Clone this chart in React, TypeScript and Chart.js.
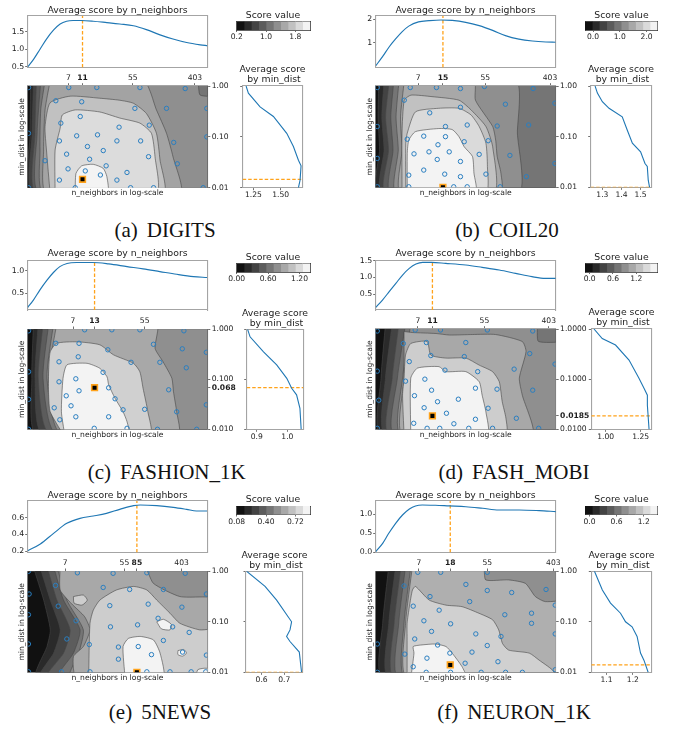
import React, { useEffect, useRef } from "react";
import { Chart, registerables } from "chart.js";

Chart.register(...registerables);

const FONT = "DejaVu Sans";
const TXT = "#1c1c1c";
const SPINE = "#a4a4a4";
const TICK = "#4a4a4a";
const BLUE = "#1f77b4";
const ORANGE = "#ffa21a";
const CONTOUR = "rgba(70,70,70,0.75)";
const CB_FRAME = "#3a3a3a";

Chart.defaults.font.family = FONT;
Chart.defaults.color = TXT;

// ======================= DATA =======================
const NN_MIN = 1.9;
const HEAT_RIGHT_3 = [1, 0.1, 0.01];
const HEAT_RIGHT_3_LABELS = ["1.00", "0.10", "0.01"];

// ---------- (a) DIGITS ----------
const A_NN_MAX = 599;
const A_BEST = [11, 0.0146];
const A_TOP_LOGNN = [0.28, 0.36, 0.45, 0.54, 0.64, 0.73, 0.82, 0.91, 1.02, 1.19, 1.38, 1.56, 1.75, 1.93, 2.12, 2.3, 2.49, 2.68, 2.78];
const A_TOP_SCORE = [0.5, 0.71, 1.0, 1.29, 1.55, 1.72, 1.8, 1.82, 1.82, 1.8, 1.76, 1.72, 1.67, 1.56, 1.41, 1.29, 1.19, 1.125, 1.1];
const A_TOP_YRANGE = [0.477, 1.949];
const A_TOP_YTICKS = [0.5, 1.0, 1.5];
const A_TOP_YLABELS = ["0.5", "1.0", "1.5"];
const A_HEAT_TOP = [7, 11, 55, 403];
const A_SIDE_SCORE = [1.183, 1.204, 1.311, 1.433, 1.555, 1.616, 1.662, 1.686, 1.677, 1.662];
const A_SIDE_LOGMD = [0, -0.14, -0.41, -0.6, -0.93, -1.19, -1.46, -1.57, -1.85, -2.0];
const A_SIDE_RANGE = [1.152, 1.701];
const A_SIDE_TICKS = [1.25, 1.5];
const A_SIDE_LABELS = ["1.25", "1.50"];
const A_PTS_LOGNN = [0.29, 0.85, 1.24, 1.84, 2.47, 0.67, 1.03, 1.77, 2.21, 2.77, 1.01, 0.74, 1.55, 1.97, 0.29, 0.96, 1.25, 0.72, 1.11, 1.52, 1.85, 2.31, 2.77, 0.82, 1.33, 1.96, 0.52, 1.14, 2.36, 1.37, 0.84, 1.08, 1.29, 1.66, 0.72, 1.52, 0.29, 0.94, 1.71, 2.03, 2.72];
const A_PTS_LOGMD = [-0.03, -0.03, -0.03, -0.03, -0.05, -0.29, -0.31, -0.44, -0.44, -0.44, -0.6, -0.73, -0.81, -0.77, -0.93, -0.98, -0.96, -1.08, -1.19, -1.08, -1.08, -1.11, -1.0, -1.34, -1.27, -1.39, -1.47, -1.44, -1.53, -1.57, -1.63, -1.67, -1.75, -1.7, -1.85, -1.85, -2.0, -2.0, -2.0, -2.0, -2.0];
const A_LEVELS = [0, 1, 2, 3, 4, 5, 5.8, 7, 8.1, 9];
const A_SHAPES = [
  [[0.1, 0.1], [3.2, 0.1], [3.2, -2.1], [0.1, -2.1]],
  [[0.32, 0.1], [3.2, 0.1], [3.2, -2.1], [0.32, -2.1], [0.31, -1.0]],
  [[0.36, 0.1], [3.2, 0.1], [3.2, -2.1], [0.36, -2.1], [0.34, -0.93]],
  [[0.4, 0.1], [3.2, 0.1], [3.2, -2.1], [0.4, -2.1], [0.38, -0.93]],
  [[0.46, 0.1], [3.2, 0.1], [3.2, -2.1], [0.44, -2.1], [0.41, -0.93]],
  [[0.52, 0.1], [2.63, 0.1], [2.68, -0.18], [3.2, -0.28], [3.2, -2.1], [0.5, -2.1], [0.45, -1.26], [0.46, -0.47]],
  [[0.59, 0.1], [1.89, 0.1], [2.07, -0.47], [2.21, -0.93], [2.3, -1.39], [2.4, -2.1], [0.54, -2.1], [0.5, -1.26], [0.52, -0.47]],
  [[0.59, -2.1], [0.54, -1.26], [0.52, -0.8], [0.59, -0.33], [0.87, -0.2], [1.28, -0.24], [1.56, -0.28], [1.75, -0.34], [1.93, -0.54], [2.07, -0.93], [2.12, -1.46], [2.17, -2.1]],
  [[0.66, -2.1], [0.66, -1.26], [0.73, -0.83], [0.76, -0.57], [0.94, -0.47], [1.28, -0.51], [1.56, -0.63], [1.84, -0.73], [2.0, -0.93], [2.05, -1.39], [2.07, -2.1]],
  [[0.94, -2.1], [0.95, -1.72], [1.03, -1.57], [1.19, -1.54], [1.33, -1.62], [1.38, -1.78], [1.39, -2.1]],
];
const A_CB_EDGES = [0.2, 0.4, 0.6, 0.8, 1.0, 1.2, 1.4, 1.6, 1.8, 2.0, 2.2];
const A_CB_TICKS = [0.2, 1.0, 1.8];
const A_CB_LABELS = ["0.2", "1.0", "1.8"];

// ---------- (b) COIL20 ----------
const B_NN_MAX = 480;
const B_BEST = [15, 0.01];
const B_TOP_LOGNN = [0.28, 0.37, 0.46, 0.55, 0.63, 0.72, 0.85, 0.99, 1.15, 1.3, 1.48, 1.66, 1.84, 2.01, 2.19, 2.37, 2.55, 2.68];
const B_TOP_SCORE = [0.03, 0.41, 0.83, 1.18, 1.46, 1.7, 1.88, 1.93, 1.96, 1.94, 1.86, 1.72, 1.52, 1.3, 1.15, 1.07, 1.03, 1.02];
const B_TOP_YRANGE = [-0.046, 2.127];
const B_TOP_YTICKS = [1, 2];
const B_TOP_YLABELS = ["1", "2"];
const B_HEAT_TOP = [7, 15, 55, 403];
const B_SIDE_SCORE = [1.262, 1.274, 1.3, 1.335, 1.404, 1.43, 1.457, 1.5, 1.523, 1.535, 1.54, 1.547];
const B_SIDE_LOGMD = [0, -0.14, -0.31, -0.44, -0.61, -0.87, -1.13, -1.3, -1.53, -1.59, -1.86, -2.0];
const B_SIDE_RANGE = [1.239, 1.556];
const B_SIDE_TICKS = [1.3, 1.4, 1.5];
const B_SIDE_LABELS = ["1.3", "1.4", "1.5"];
const B_PTS_LOGNN = [0.3, 0.74, 1.09, 1.41, 1.73, 2.38, 0.66, 2.01, 2.67, 1.0, 1.41, 1.21, 1.5, 1.9, 2.32, 0.3, 0.92, 1.21, 0.7, 1.11, 1.46, 1.78, 0.99, 1.26, 0.79, 1.66, 2.07, 1.1, 1.41, 0.3, 2.67, 0.92, 1.2, 1.75, 2.29, 0.72, 1.41, 0.72, 1.32, 1.5, 1.94, 0.3];
const B_PTS_LOGMD = [-0.03, -0.03, -0.03, -0.05, -0.01, -0.05, -0.28, -0.36, -0.34, -0.53, -0.42, -0.8, -0.77, -0.79, -0.77, -0.8, -0.99, -1.0, -1.05, -1.16, -1.1, -1.08, -1.3, -1.3, -1.34, -1.35, -1.37, -1.45, -1.49, -1.43, -1.53, -1.66, -1.74, -1.74, -1.79, -1.76, -1.79, -1.99, -1.99, -1.99, -1.99, -1.99];
const B_LEVELS = [0, 1, 2, 3, 4, 5, 6, 7, 8, 9];
const B_SHAPES = [
  [[0.1, 0.1], [3.2, 0.1], [3.2, -2.1], [0.1, -2.1]],
  [[0.32, 0.1], [3.2, 0.1], [3.2, -2.1], [0.31, -2.1], [0.33, -1.26], [0.31, -0.61]],
  [[0.39, 0.1], [3.2, 0.1], [3.2, -2.1], [0.36, -2.1], [0.39, -1.26], [0.36, -0.61]],
  [[0.46, 0.1], [3.2, 0.1], [3.2, -2.1], [0.41, -2.1], [0.45, -1.26], [0.41, -0.61]],
  [[0.52, 0.1], [3.2, 0.1], [3.2, -2.1], [0.48, -2.1], [0.51, -1.26], [0.48, -0.61]],
  [[0.59, 0.1], [2.15, 0.1], [2.17, -0.93], [2.19, -2.1], [0.55, -2.1], [0.58, -1.26], [0.55, -0.61]],
  [[0.66, 0.1], [1.59, 0.1], [1.61, -0.28], [1.84, -0.8], [1.88, -1.07], [1.9, -1.39], [1.95, -1.72], [1.95, -2.1], [0.61, -2.1], [0.63, -1.26], [0.61, -0.61]],
  [[0.63, -2.1], [0.63, -0.93], [0.66, -0.28], [0.75, -0.18], [1.03, -0.21], [1.39, -0.28], [1.55, -0.47], [1.75, -0.8], [1.84, -1.2], [1.86, -2.1]],
  [[0.68, -2.1], [0.68, -1.13], [0.7, -0.93], [0.81, -0.51], [1.12, -0.44], [1.39, -0.44], [1.55, -0.57], [1.66, -0.8], [1.75, -1.13], [1.77, -1.59], [1.75, -2.1]],
  [[0.7, -2.1], [0.7, -1.33], [0.72, -1.07], [0.81, -0.9], [1.12, -0.84], [1.3, -0.86], [1.39, -1.0], [1.46, -1.2], [1.57, -1.39], [1.59, -1.72], [1.61, -2.1]],
];
const B_CB_EDGES = [-0.3, -0.03, 0.24, 0.51, 0.78, 1.05, 1.32, 1.59, 1.86, 2.13, 2.4];
const B_CB_TICKS = [0, 1, 2];
const B_CB_LABELS = ["0.0", "1.0", "2.0"];

// ---------- (c) FASHION_1K ----------
const C_NN_MAX = 333;
const C_BEST = [13, 0.068];
const C_TOP_LOGNN = [0.28, 0.35, 0.43, 0.52, 0.6, 0.68, 0.77, 0.89, 1.09, 1.29, 1.52, 1.72, 1.93, 2.14, 2.35, 2.52];
const C_TOP_SCORE = [0.19, 0.35, 0.57, 0.79, 0.96, 1.09, 1.16, 1.18, 1.18, 1.15, 1.09, 1.04, 0.98, 0.92, 0.87, 0.85];
const C_TOP_YRANGE = [0.131, 1.225];
const C_TOP_YTICKS = [0.5, 1.0];
const C_TOP_YLABELS = ["0.5", "1.0"];
const C_HEAT_TOP = [7, 13, 55];
const C_HEAT_RIGHT = [1, 0.1, 0.068, 0.01];
const C_HEAT_RIGHT_LABELS = ["1.000", "0.100", "0.068", "0.010"];
const C_SIDE_SCORE = [0.87, 0.878, 0.922, 0.965, 0.998, 1.014, 1.03, 1.041, 1.045];
const C_SIDE_LOGMD = [0, -0.15, -0.45, -0.71, -0.98, -1.18, -1.31, -1.58, -2.0];
const C_SIDE_RANGE = [0.867, 1.052];
const C_SIDE_TICKS = [0.9, 1.0];
const C_SIDE_LABELS = ["0.9", "1.0"];
const C_PTS_LOGNN = [0.99, 1.33, 1.68, 2.23, 0.29, 0.63, 0.92, 1.85, 1.28, 2.21, 2.51, 0.91, 0.67, 1.57, 1.93, 2.26, 0.29, 1.22, 0.88, 0.67, 0.92, 1.29, 2.04, 0.76, 1.37, 0.29, 0.82, 0.61, 1.47, 1.74, 2.14, 2.51, 0.88, 1.29, 0.68, 0.29, 1.11, 1.52, 1.9, 2.39];
const C_PTS_LOGMD = [-0.01, -0.01, -0.01, -0.03, -0.03, -0.28, -0.28, -0.3, -0.41, -0.39, -0.46, -0.55, -0.65, -0.66, -0.66, -0.77, -0.85, -0.86, -0.99, -1.05, -1.23, -1.17, -1.21, -1.33, -1.39, -1.4, -1.53, -1.57, -1.61, -1.6, -1.65, -1.51, -1.75, -1.75, -1.81, -2.0, -1.98, -1.98, -2.0, -2.0];
const C_LEVELS = [0, 1, 2, 3, 4, 5, 6, 7.6, 9];
const C_SHAPES = [
  [[0.1, 0.1], [3.2, 0.1], [3.2, -2.1], [0.1, -2.1]],
  [[0.35, 0.1], [3.2, 0.1], [3.2, -2.1], [0.39, -2.1], [0.33, -0.98]],
  [[0.41, 0.1], [3.2, 0.1], [3.2, -2.1], [0.47, -2.1], [0.37, -0.98]],
  [[0.47, 0.1], [3.2, 0.1], [3.2, -2.1], [0.56, -2.1], [0.41, -0.98]],
  [[0.54, 0.1], [3.2, 0.1], [3.2, -2.1], [0.64, -2.1], [0.47, -0.98]],
  [[0.6, 0.1], [3.2, 0.1], [3.2, -2.1], [0.7, -2.1], [0.52, -0.98]],
  [[0.64, 0.1], [1.89, 0.1], [1.87, -0.38], [1.97, -0.65], [2.08, -0.98], [2.1, -1.25], [2.14, -1.65], [2.16, -2.1], [0.74, -2.1], [0.54, -0.98]],
  [[0.72, -2.1], [0.56, -1.65], [0.54, -1.31], [0.54, -0.85], [0.56, -0.45], [0.64, -0.28], [0.89, -0.25], [1.18, -0.31], [1.35, -0.51], [1.6, -0.68], [1.68, -0.85], [1.72, -1.18], [1.78, -1.65], [1.81, -2.1]],
  [[0.74, -2.1], [0.7, -1.65], [0.72, -0.98], [0.77, -0.71], [1.02, -0.68], [1.18, -0.78], [1.27, -0.95], [1.29, -1.11], [1.37, -1.38], [1.47, -1.65], [1.52, -1.85], [1.54, -2.1]],
];
const C_CB_EDGES = [0, 0.14, 0.28, 0.42, 0.56, 0.7, 0.84, 0.98, 1.12, 1.26, 1.4];
const C_CB_TICKS = [0, 0.6, 1.2];
const C_CB_LABELS = ["0.00", "0.60", "1.20"];

// ---------- (d) FASH_MOBI ----------
const D_NN_MAX = 500;
const D_BEST = [11, 0.0185];
const D_TOP_LOGNN = [0.28, 0.37, 0.46, 0.55, 0.64, 0.73, 0.82, 0.91, 1.03, 1.22, 1.49, 1.71, 1.94, 2.16, 2.38, 2.56, 2.7];
const D_TOP_SCORE = [0.1, 0.32, 0.57, 0.82, 1.07, 1.27, 1.4, 1.45, 1.45, 1.42, 1.37, 1.3, 1.22, 1.12, 1.02, 0.97, 0.97];
const D_TOP_YRANGE = [0.02, 1.506];
const D_TOP_YTICKS = [0.5, 1.0, 1.5];
const D_TOP_YLABELS = ["0.5", "1.0", "1.5"];
const D_HEAT_TOP = [7, 11, 55, 403];
const D_HEAT_RIGHT = [1, 0.1, 0.0185, 0.01];
const D_HEAT_RIGHT_LABELS = ["1.0000", "0.1000", "0.0185", "0.0100"];
const D_SIDE_SCORE = [0.917, 0.976, 1.071, 1.167, 1.238, 1.274, 1.298, 1.298, 1.31];
const D_SIDE_LOGMD = [0, -0.19, -0.32, -0.62, -0.98, -1.18, -1.32, -1.52, -2.0];
const D_SIDE_RANGE = [0.898, 1.326];
const D_SIDE_TICKS = [1.0, 1.25];
const D_SIDE_LABELS = ["1.00", "1.25"];
const D_PTS_LOGNN = [0.81, 1.15, 1.78, 2.39, 0.3, 0.65, 0.96, 1.49, 2.35, 1.02, 1.47, 0.73, 2.69, 1.21, 1.65, 2.14, 0.3, 0.68, 0.94, 1.03, 1.62, 1.91, 2.39, 0.8, 1.11, 1.39, 0.32, 0.93, 1.79, 1.23, 2.17, 1.62, 0.79, 1.33, 0.97, 1.14, 1.53, 1.85, 2.47, 0.3];
const D_PTS_LOGMD = [-0.02, -0.02, -0.02, -0.04, -0.04, -0.29, -0.27, -0.27, -0.49, -0.53, -0.55, -0.65, -0.7, -0.82, -0.85, -0.8, -0.84, -1.04, -1.0, -1.22, -1.18, -1.2, -1.22, -1.33, -1.45, -1.4, -1.42, -1.57, -1.58, -1.68, -1.78, -1.8, -1.88, -1.89, -1.98, -1.98, -1.98, -1.98, -1.98, -1.98];
const D_LEVELS = [0, 1, 2, 3, 4, 5, 6, 7.5, 9];
const D_SHAPES = [
  [[0.1, 0.1], [3.2, 0.1], [3.2, -2.1], [0.1, -2.1]],
  [[0.41, 0.1], [3.2, 0.1], [3.2, -2.1], [0.35, -2.1], [0.35, -0.98]],
  [[0.5, 0.1], [3.2, 0.1], [3.2, -2.1], [0.41, -2.1], [0.41, -0.98]],
  [[0.59, 0.1], [3.2, 0.1], [3.2, -2.1], [0.46, -2.1], [0.5, -0.98]],
  [[0.68, 0.1], [3.2, 0.1], [3.2, -2.1], [0.53, -2.1], [0.57, -0.98]],
  [[0.75, 0.1], [2.43, 0.1], [2.47, -0.25], [3.2, -0.32], [3.2, -2.1], [0.62, -2.1], [0.64, -0.98]],
  [[0.66, -0.05], [0.77, -0.07], [1.09, -0.09], [1.27, -0.12], [1.58, -0.11], [1.89, -0.11], [2.25, -0.25], [2.3, -0.45], [2.21, -0.98], [2.25, -1.32], [2.38, -2.1], [0.64, -2.1], [0.66, -0.98]],
  [[0.66, -2.1], [0.64, -1.32], [0.66, -0.98], [0.68, -0.52], [0.75, -0.29], [0.97, -0.25], [1.02, -0.52], [1.22, -0.58], [1.49, -0.58], [1.67, -0.72], [1.85, -0.85], [1.94, -1.05], [1.98, -1.45], [2.03, -1.78], [2.03, -2.1]],
  [[0.75, -2.1], [0.75, -0.98], [0.84, -0.78], [1.13, -0.75], [1.22, -0.85], [1.49, -0.85], [1.67, -1.05], [1.71, -1.32], [1.76, -1.65], [1.78, -2.1]],
];
const D_CB_EDGES = [-0.12, 0.066, 0.252, 0.438, 0.624, 0.81, 0.996, 1.182, 1.368, 1.554, 1.74];
const D_CB_TICKS = [0, 0.6, 1.2];
const D_CB_LABELS = ["0.0", "0.6", "1.2"];

// ---------- (e) 5NEWS ----------
const E_NN_MAX = 986;
const E_BEST = [85, 0.01];
const E_TOP_LOGNN = [0.28, 0.47, 0.67, 0.87, 1.07, 1.27, 1.47, 1.67, 1.88, 1.98, 2.23, 2.48, 2.68, 2.83, 2.99];
const E_TOP_SCORE = [0.204, 0.284, 0.412, 0.532, 0.592, 0.62, 0.652, 0.7, 0.744, 0.752, 0.744, 0.724, 0.7, 0.68, 0.68];
const E_TOP_YRANGE = [0.182, 0.8];
const E_TOP_YTICKS = [0.2, 0.4, 0.6];
const E_TOP_YLABELS = ["0.2", "0.4", "0.6"];
const E_HEAT_TOP = [7, 55, 85, 403];
const E_SIDE_SCORE = [0.534, 0.615, 0.666, 0.732, 0.725, 0.71, 0.725, 0.766, 0.776];
const E_SIDE_LOGMD = [0, -0.3, -0.57, -1.0, -1.16, -1.29, -1.39, -1.6, -2.0];
const E_SIDE_RANGE = [0.531, 0.781];
const E_SIDE_TICKS = [0.6, 0.7];
const E_SIDE_LABELS = ["0.6", "0.7"];
const E_PTS_LOGNN = [0.29, 1.03, 1.57, 2.08, 2.66, 0.7, 1.42, 1.82, 2.33, 2.98, 0.3, 0.74, 1.52, 2.1, 2.61, 0.29, 1.01, 2.25, 2.47, 1.94, 1.53, 2.72, 0.87, 0.29, 1.21, 1.65, 1.95, 2.33, 2.62, 2.15, 1.65, 2.98, 0.29, 0.79, 1.22, 2.08, 2.43, 2.75, 2.97];
const E_PTS_LOGMD = [0, -0.03, -0.04, -0.03, -0.04, -0.28, -0.32, -0.36, -0.36, -0.45, -0.45, -0.69, -0.68, -0.65, -0.71, -0.86, -0.98, -0.93, -1.1, -1.06, -1.1, -1.21, -1.34, -1.44, -1.45, -1.5, -1.49, -1.37, -1.6, -1.65, -1.74, -1.66, -1.99, -1.99, -1.99, -1.99, -1.99, -1.99, -1.99];
const E_LEVELS = [0, 1, 2, 3, 4, 5, 6, 7.5, 7.5, 9, 9, 9, 9];
const E_SHAPES = [
  [[0.1, 0.1], [3.2, 0.1], [3.2, -2.1], [0.1, -2.1]],
  [[0.36, 0.1], [3.2, 0.1], [3.2, -2.1], [0.41, -2.1], [0.57, -1.49], [0.62, -1.16], [0.52, -0.57]],
  [[0.46, 0.1], [3.2, 0.1], [3.2, -2.1], [0.46, -2.1], [0.67, -1.62], [0.77, -1.16], [0.62, -0.57]],
  [[0.57, 0.1], [3.2, 0.1], [3.2, -2.1], [0.57, -2.1], [0.82, -1.62], [0.92, -1.16], [0.72, -0.57]],
  [[0.67, 0.1], [3.2, 0.1], [3.2, -2.1], [0.74, -2.1], [0.97, -1.62], [1.07, -1.16], [0.82, -0.57]],
  [[0.72, 0.1], [3.2, 0.1], [3.2, -2.1], [0.92, -2.1], [1.05, -1.62], [1.12, -1.16], [0.87, -0.57]],
  [[0.77, 0.1], [2.03, 0.1], [2.18, -0.24], [2.58, -0.5], [3.2, -0.57], [3.2, -2.1], [1.02, -2.1], [0.97, -1.69], [1.12, -1.49], [1.22, -1.16], [1.14, -0.9], [0.94, -0.64], [0.77, -0.37]],
  [[1.2, -2.1], [1.22, -1.03], [1.27, -0.77], [1.37, -0.57], [1.62, -0.37], [1.88, -0.3], [2.08, -0.37], [2.23, -0.57], [2.43, -0.83], [2.58, -1.03], [2.88, -1.16], [3.2, -1.16], [3.2, -2.1]],
  [[0.97, -0.5], [1.12, -0.47], [1.18, -0.57], [1.1, -0.67], [0.98, -0.63]],
  [[1.75, -2.1], [1.72, -1.49], [1.8, -1.33], [1.98, -1.29], [2.18, -1.36], [2.28, -1.62], [2.33, -2.1]],
  [[2.23, -1.0], [2.33, -0.95], [2.45, -1.05], [2.43, -1.16], [2.3, -1.14]],
  [[2.55, -1.57], [2.64, -1.55], [2.68, -1.62], [2.62, -1.68], [2.55, -1.65]],
  [[2.82, -2.1], [2.85, -1.95], [2.95, -1.92], [3.2, -1.95], [3.2, -2.1]],
];
const E_CB_EDGES = [0.08, 0.16, 0.24, 0.32, 0.4, 0.48, 0.56, 0.64, 0.72, 0.8, 0.88];
const E_CB_TICKS = [0.08, 0.4, 0.72];
const E_CB_LABELS = ["0.08", "0.40", "0.72"];

// ---------- (f) NEURON_1K ----------
const F_NN_MAX = 433;
const F_BEST = [18, 0.014];
const F_TOP_LOGNN = [0.28, 0.37, 0.45, 0.54, 0.63, 0.72, 0.8, 0.89, 1.06, 1.24, 1.46, 1.68, 1.89, 2.16, 2.42, 2.64];
const F_TOP_SCORE = [0.018, 0.237, 0.5, 0.763, 0.982, 1.14, 1.22, 1.246, 1.237, 1.22, 1.2, 1.158, 1.114, 1.114, 1.096, 1.07];
const F_TOP_YRANGE = [-0.005, 1.35];
const F_TOP_YTICKS = [0, 0.5, 1.0];
const F_TOP_YLABELS = ["0.0", "0.5", "1.0"];
const F_HEAT_TOP = [7, 18, 55, 403];
const F_SIDE_SCORE = [1.054, 1.084, 1.115, 1.153, 1.172, 1.197, 1.216, 1.229, 1.242, 1.258];
const F_SIDE_LOGMD = [0, -0.37, -0.63, -0.83, -1.0, -1.1, -1.29, -1.62, -1.76, -2.0];
const F_SIDE_RANGE = [1.042, 1.27];
const F_SIDE_TICKS = [1.1, 1.2];
const F_SIDE_LABELS = ["1.1", "1.2"];
const F_PTS_LOGNN = [0.83, 1.13, 1.74, 0.65, 1.46, 1.74, 2.06, 2.51, 0.99, 1.51, 2.63, 0.77, 1.11, 1.97, 2.32, 0.91, 1.26, 1.59, 2.32, 1.01, 1.92, 2.63, 0.79, 1.09, 0.3, 1.74, 0.66, 1.25, 1.54, 0.95, 1.45, 1.88, 0.77, 2.63, 0.94, 1.26, 1.66, 1.98, 2.2, 0.3];
const F_PTS_LOGMD = [-0.02, -0.02, -0.02, -0.29, -0.26, -0.38, -0.42, -0.36, -0.5, -0.6, -0.67, -0.69, -0.77, -0.86, -0.83, -0.98, -1.04, -1.24, -1.03, -1.19, -1.29, -1.24, -1.34, -1.46, -1.44, -1.47, -1.64, -1.62, -1.6, -1.72, -1.82, -1.79, -1.89, -1.95, -2.0, -2.0, -2.0, -2.0, -2.0, -2.0];
const F_LEVELS = [0, 1, 2, 3, 4, 5, 6.3, 7.6, 9];
const F_SHAPES = [
  [[0.1, 0.1], [3.2, 0.1], [3.2, -2.1], [0.1, -2.1]],
  [[0.45, 0.1], [3.2, 0.1], [3.2, -2.1], [0.37, -2.1], [0.37, -1.03]],
  [[0.54, 0.1], [3.2, 0.1], [3.2, -2.1], [0.45, -2.1], [0.45, -1.03]],
  [[0.61, 0.1], [3.2, 0.1], [3.2, -2.1], [0.52, -2.1], [0.52, -1.03]],
  [[0.67, 0.1], [3.2, 0.1], [3.2, -2.1], [0.58, -2.1], [0.58, -1.03]],
  [[0.74, 0.1], [3.2, 0.1], [3.2, -2.1], [0.67, -2.1], [0.65, -1.03]],
  [[0.76, 0.1], [1.68, 0.1], [1.72, -0.17], [2.02, -0.17], [2.24, -0.24], [2.37, -0.5], [2.5, -0.6], [3.2, -0.6], [3.2, -2.1], [0.69, -2.1], [0.67, -1.03]],
  [[0.69, -2.1], [0.69, -1.29], [0.69, -1.03], [0.72, -0.7], [0.76, -0.37], [0.8, -0.3], [0.98, -0.57], [1.2, -0.67], [1.41, -0.7], [1.63, -0.83], [1.81, -0.96], [1.89, -1.16], [1.94, -1.43], [2.02, -1.56], [2.29, -1.62], [2.42, -1.76], [2.59, -1.95], [2.64, -2.1]],
  [[0.74, -2.1], [0.78, -1.62], [0.77, -1.49], [0.87, -1.46], [1.06, -1.44], [1.2, -1.49], [1.28, -1.62], [1.41, -1.89], [1.46, -2.1]],
];
const F_CB_EDGES = [-0.1, 0.06, 0.22, 0.38, 0.54, 0.7, 0.86, 1.02, 1.18, 1.34, 1.5];
const F_CB_TICKS = [0, 0.6, 1.2];
const F_CB_LABELS = ["0.0", "0.6", "1.2"];

// ======================= PANEL TABLE =======================
const PANELS = [
  { letter: "a", name: "DIGITS", nnMax: A_NN_MAX, best: A_BEST, topX: A_TOP_LOGNN, topY: A_TOP_SCORE, topRange: A_TOP_YRANGE, topTicks: A_TOP_YTICKS, topLabels: A_TOP_YLABELS, heatTop: A_HEAT_TOP, heatRight: HEAT_RIGHT_3, heatRightLabels: HEAT_RIGHT_3_LABELS, rightBold: -1, ptsX: A_PTS_LOGNN, ptsY: A_PTS_LOGMD, levels: A_LEVELS, shapes: A_SHAPES, sideX: A_SIDE_SCORE, sideY: A_SIDE_LOGMD, sideRange: A_SIDE_RANGE, sideTicks: A_SIDE_TICKS, sideLabels: A_SIDE_LABELS, cb: A_CB_EDGES, cbTicks: A_CB_TICKS, cbLabels: A_CB_LABELS },
  { letter: "b", name: "COIL20", nnMax: B_NN_MAX, best: B_BEST, topX: B_TOP_LOGNN, topY: B_TOP_SCORE, topRange: B_TOP_YRANGE, topTicks: B_TOP_YTICKS, topLabels: B_TOP_YLABELS, heatTop: B_HEAT_TOP, heatRight: HEAT_RIGHT_3, heatRightLabels: HEAT_RIGHT_3_LABELS, rightBold: -1, ptsX: B_PTS_LOGNN, ptsY: B_PTS_LOGMD, levels: B_LEVELS, shapes: B_SHAPES, sideX: B_SIDE_SCORE, sideY: B_SIDE_LOGMD, sideRange: B_SIDE_RANGE, sideTicks: B_SIDE_TICKS, sideLabels: B_SIDE_LABELS, cb: B_CB_EDGES, cbTicks: B_CB_TICKS, cbLabels: B_CB_LABELS },
  { letter: "c", name: "FASHION_1K", nnMax: C_NN_MAX, best: C_BEST, topX: C_TOP_LOGNN, topY: C_TOP_SCORE, topRange: C_TOP_YRANGE, topTicks: C_TOP_YTICKS, topLabels: C_TOP_YLABELS, heatTop: C_HEAT_TOP, heatRight: C_HEAT_RIGHT, heatRightLabels: C_HEAT_RIGHT_LABELS, rightBold: 2, ptsX: C_PTS_LOGNN, ptsY: C_PTS_LOGMD, levels: C_LEVELS, shapes: C_SHAPES, sideX: C_SIDE_SCORE, sideY: C_SIDE_LOGMD, sideRange: C_SIDE_RANGE, sideTicks: C_SIDE_TICKS, sideLabels: C_SIDE_LABELS, cb: C_CB_EDGES, cbTicks: C_CB_TICKS, cbLabels: C_CB_LABELS },
  { letter: "d", name: "FASH_MOBI", nnMax: D_NN_MAX, best: D_BEST, topX: D_TOP_LOGNN, topY: D_TOP_SCORE, topRange: D_TOP_YRANGE, topTicks: D_TOP_YTICKS, topLabels: D_TOP_YLABELS, heatTop: D_HEAT_TOP, heatRight: D_HEAT_RIGHT, heatRightLabels: D_HEAT_RIGHT_LABELS, rightBold: 2, ptsX: D_PTS_LOGNN, ptsY: D_PTS_LOGMD, levels: D_LEVELS, shapes: D_SHAPES, sideX: D_SIDE_SCORE, sideY: D_SIDE_LOGMD, sideRange: D_SIDE_RANGE, sideTicks: D_SIDE_TICKS, sideLabels: D_SIDE_LABELS, cb: D_CB_EDGES, cbTicks: D_CB_TICKS, cbLabels: D_CB_LABELS },
  { letter: "e", name: "5NEWS", nnMax: E_NN_MAX, best: E_BEST, topX: E_TOP_LOGNN, topY: E_TOP_SCORE, topRange: E_TOP_YRANGE, topTicks: E_TOP_YTICKS, topLabels: E_TOP_YLABELS, heatTop: E_HEAT_TOP, heatRight: HEAT_RIGHT_3, heatRightLabels: HEAT_RIGHT_3_LABELS, rightBold: -1, ptsX: E_PTS_LOGNN, ptsY: E_PTS_LOGMD, levels: E_LEVELS, shapes: E_SHAPES, sideX: E_SIDE_SCORE, sideY: E_SIDE_LOGMD, sideRange: E_SIDE_RANGE, sideTicks: E_SIDE_TICKS, sideLabels: E_SIDE_LABELS, cb: E_CB_EDGES, cbTicks: E_CB_TICKS, cbLabels: E_CB_LABELS },
  { letter: "f", name: "NEURON_1K", nnMax: F_NN_MAX, best: F_BEST, topX: F_TOP_LOGNN, topY: F_TOP_SCORE, topRange: F_TOP_YRANGE, topTicks: F_TOP_YTICKS, topLabels: F_TOP_YLABELS, heatTop: F_HEAT_TOP, heatRight: HEAT_RIGHT_3, heatRightLabels: HEAT_RIGHT_3_LABELS, rightBold: -1, ptsX: F_PTS_LOGNN, ptsY: F_PTS_LOGMD, levels: F_LEVELS, shapes: F_SHAPES, sideX: F_SIDE_SCORE, sideY: F_SIDE_LOGMD, sideRange: F_SIDE_RANGE, sideTicks: F_SIDE_TICKS, sideLabels: F_SIDE_LABELS, cb: F_CB_EDGES, cbTicks: F_CB_TICKS, cbLabels: F_CB_LABELS },
];

// ======================= LAYOUT (px) =======================
const LAYOUTS = [
  { ox: 0, oy: 0, top: { x: 27.7, y: 16, w: 179.6, h: 51.5 }, topGap: 5, heat: { x: 27.7, y: 86, w: 179.6, h: 101.7 }, side: { x: 242.7, y: 86, w: 60, h: 101.7 }, cbar: { x: 236.7, y: 21.5, w: 73.3, h: 8.5 }, capX: 165, capBase: 237.3 },
  { ox: 339, oy: 0, top: { x: 36.7, y: 16, w: 180, h: 51.5 }, topGap: 5, heat: { x: 36.7, y: 86, w: 180, h: 101.3 }, side: { x: 251.7, y: 86, w: 60.6, h: 101.3 }, cbar: { x: 246, y: 21.5, w: 72.3, h: 8.5 }, capX: 168, capBase: 237.3 },
  { ox: 0, oy: 245, top: { x: 27.7, y: 15.5, w: 179.6, h: 49.5 }, topGap: 6.5, heat: { x: 27.7, y: 84.3, w: 179.6, h: 100 }, side: { x: 246.7, y: 84.3, w: 56.6, h: 100 }, cbar: { x: 236.7, y: 18.5, w: 73.3, h: 8.5 }, capX: 166.7, capBase: 235 },
  { ox: 339, oy: 245, top: { x: 36.7, y: 15.5, w: 180, h: 49.5 }, topGap: 6.5, heat: { x: 36.7, y: 84, w: 180, h: 100.3 }, side: { x: 252.3, y: 84, w: 60, h: 100.3 }, cbar: { x: 246, y: 18.5, w: 72.3, h: 8.5 }, capX: 175, capBase: 235 },
  { ox: 0, oy: 490, top: { x: 27.7, y: 11, w: 179.6, h: 51.5 }, topGap: 5, heat: { x: 27.7, y: 81.3, w: 179.6, h: 101 }, side: { x: 246, y: 81.3, w: 56.7, h: 101 }, cbar: { x: 236.7, y: 16, w: 73.3, h: 8.5 }, capX: 160, capBase: 230 },
  { ox: 339, oy: 490, top: { x: 36.7, y: 11, w: 180, h: 51.5 }, topGap: 5, heat: { x: 36.7, y: 81.3, w: 180, h: 101 }, side: { x: 252.3, y: 81.3, w: 60, h: 101 }, cbar: { x: 246, y: 16, w: 72.3, h: 8.5 }, capX: 175, capBase: 230 },
];

// ======================= HELPERS =======================
const gray = (lv: number) => {
  const g = Math.round(17 + lv * 25.1);
  return `rgb(${g},${g},${g})`;
};

function place(r: any, m: any) {
  const cl = Math.floor(r.x - m.l);
  const ct = Math.floor(r.y - m.t);
  const cr = Math.ceil(r.x + r.w + m.r);
  const cb = Math.ceil(r.y + r.h + m.b);
  return { left: cl, top: ct, width: cr - cl, height: cb - ct, L: r.x - cl, T: r.y - ct, R: cr - (r.x + r.w), B: cb - (r.y + r.h) };
}

const baseOptions = () => ({
  animation: false,
  responsive: false,
  maintainAspectRatio: false,
  events: [],
  layout: { padding: 0, autoPadding: false },
});

function titleOpt(text: string[], size: number, lh: number, padTop: number) {
  return {
    display: true,
    text,
    color: TXT,
    fullSize: true,
    font: { family: FONT, size, lineHeight: lh, weight: "normal" },
    padding: { top: padTop, bottom: 0 },
  };
}

function frameAxis(pos: string, size: number, min: number, max: number, color = SPINE, width = 1.1, extra: any = {}) {
  const horiz = pos === "top" || pos === "bottom";
  return {
    type: "linear",
    position: pos,
    display: true,
    bounds: "data",
    min,
    max,
    ticks: { display: false },
    grid: { display: false, drawTicks: false },
    border: { display: true, color, width },
    afterFit: (s: any) => {
      if (horiz) s.height = size;
      else s.width = size;
    },
    ...extra,
  };
}

function tickAxis(pos: string, size: number, min: number, max: number, values: number[], labels: string[], o: any) {
  const horiz = pos === "top" || pos === "bottom";
  return {
    type: "linear",
    position: pos,
    display: true,
    bounds: "data",
    min,
    max,
    afterBuildTicks: (s: any) => {
      s.ticks = values.map((v) => ({ value: v }));
    },
    afterFit: (s: any) => {
      if (horiz) s.height = size;
      else s.width = size;
    },
    ticks: {
      display: o.showLabels !== false,
      autoSkip: false,
      maxRotation: 0,
      minRotation: 0,
      padding: o.pad,
      color: TXT,
      font: (ctx: any) => ({ family: FONT, size: o.size, lineHeight: 1, weight: ctx.index === o.bold ? "bold" : "normal" }),
      callback: (_v: any, i: number) => labels[i],
    },
    grid: { display: true, drawOnChartArea: false, drawTicks: true, tickLength: o.len, tickColor: TICK, tickWidth: 0.8, color: "rgba(0,0,0,0)" },
    border: { display: true, color: o.border || SPINE, width: o.bw || 1.1 },
    title: o.title || { display: false },
  };
}

// ---------- chart configs ----------
function topConfig(p: any, L: any, b: any) {
  const lmin = Math.log10(NN_MIN);
  const lmax = Math.log10(p.nnMax);
  const size = 9.3;
  const lh = size * 0.8;
  const padTop = b.T - L.topGap - lh / 2;
  const bx = Math.log10(p.best[0]);
  return {
    type: "line",
    data: {
      datasets: [
        { data: p.topX.map((x: number, i: number) => ({ x, y: p.topY[i] })), borderColor: BLUE, borderWidth: 1.15, pointRadius: 0, tension: 0.4, cubicInterpolationMode: "monotone", xAxisID: "x", yAxisID: "y" },
        { data: [{ x: bx, y: p.topRange[0] }, { x: bx, y: p.topRange[1] }], borderColor: ORANGE, borderWidth: 1.3, borderDash: [3.5, 2], pointRadius: 0, xAxisID: "x", yAxisID: "y" },
      ],
    },
    options: {
      ...baseOptions(),
      plugins: { legend: { display: false }, tooltip: { enabled: false }, title: titleOpt(["Average score by n_neighbors"], size, 0.8, padTop) },
      scales: {
        x: frameAxis("bottom", b.B, lmin, lmax),
        xt: frameAxis("top", Math.max(0, L.topGap - lh / 2), lmin, lmax),
        y: tickAxis("left", b.L, p.topRange[0], p.topRange[1], p.topTicks, p.topLabels, { size: 7.8, len: 2.5, pad: 1, bold: -1 }),
        yr: frameAxis("right", b.R, p.topRange[0], p.topRange[1]),
      },
    },
  };
}

function heatConfig(p: any, b: any) {
  const lmin = Math.log10(NN_MIN);
  const lmax = Math.log10(p.nnMax);
  const datasets: any[] = [];
  datasets.push({
    type: "scatter",
    data: [{ x: Math.log10(p.best[0]), y: Math.log10(p.best[1]) }],
    pointStyle: "rect",
    pointRadius: 4,
    pointBackgroundColor: "#000",
    pointBorderColor: ORANGE,
    pointBorderWidth: 1.6,
    xAxisID: "xt",
    yAxisID: "yr",
  });
  datasets.push({
    type: "scatter",
    data: p.ptsX.map((x: number, i: number) => ({ x, y: p.ptsY[i] })),
    pointStyle: "circle",
    pointRadius: 2.2,
    pointBackgroundColor: "rgba(0,0,0,0)",
    pointBorderColor: "#2a7fc1",
    pointBorderWidth: 1,
    xAxisID: "xt",
    yAxisID: "yr",
  });
  for (let i = p.shapes.length - 1; i >= 0; i--) {
    const pts = p.shapes[i].map((q: number[]) => ({ x: q[0], y: q[1] }));
    pts.push({ x: pts[0].x, y: pts[0].y });
    datasets.push({
      type: "line",
      data: pts,
      fill: "shape",
      backgroundColor: gray(p.levels[i]),
      borderColor: CONTOUR,
      borderWidth: 0.8,
      pointRadius: 0,
      tension: 0.2,
      capBezierPoints: false,
      xAxisID: "xt",
      yAxisID: "yr",
    });
  }
  const topBold = p.heatTop.indexOf(p.best[0]);
  const tsize = 7.6;
  return {
    type: "scatter",
    data: { datasets },
    options: {
      ...baseOptions(),
      plugins: { legend: { display: false }, tooltip: { enabled: false } },
      scales: {
        xt: tickAxis("top", b.T, lmin, lmax, p.heatTop.map((v: number) => Math.log10(v)), p.heatTop.map((v: number) => String(v)), { size: tsize, len: 2.8, pad: 1.2, bold: topBold }),
        xb: frameAxis("bottom", b.B, lmin, lmax, SPINE, 1.1, {
          title: { display: true, text: "n_neighbors in log-scale", color: TXT, font: { family: FONT, size: tsize, lineHeight: 1 }, padding: { top: 0, bottom: Math.max(0, b.B - 5.6 - tsize / 2) } },
        }),
        yr: tickAxis("right", b.R, -2, 0, p.heatRight.map((v: number) => Math.log10(v)), p.heatRightLabels, { size: tsize, len: 3, pad: 1.4, bold: p.rightBold }),
        yl: frameAxis("left", b.L, -2, 0, SPINE, 1.1, {
          title: { display: true, text: "min_dist in log-scale", color: TXT, font: { family: FONT, size: tsize, lineHeight: 1 }, padding: { top: Math.max(0, b.L - 6 - tsize / 2), bottom: 0 } },
        }),
      },
    },
  };
}

function sideConfig(p: any, b: any) {
  const size = 9.3;
  const lhPx = 10;
  const gLast = 6;
  const padTop = b.T - gLast - lhPx - lhPx / 2;
  const lb = Math.log10(p.best[1]);
  return {
    type: "scatter",
    data: {
      datasets: [
        { type: "line", data: p.sideX.map((x: number, i: number) => ({ x, y: p.sideY[i] })), borderColor: BLUE, borderWidth: 1.1, pointRadius: 0, tension: 0, xAxisID: "x", yAxisID: "y" },
        { type: "line", data: [{ x: p.sideRange[0], y: lb }, { x: p.sideRange[1], y: lb }], borderColor: ORANGE, borderWidth: 1.3, borderDash: [3.5, 2], pointRadius: 0, xAxisID: "x", yAxisID: "y" },
      ],
    },
    options: {
      ...baseOptions(),
      plugins: { legend: { display: false }, tooltip: { enabled: false }, title: titleOpt(["Average score", " by min_dist"], size, lhPx / size, padTop) },
      scales: {
        x: tickAxis("bottom", b.B, p.sideRange[0], p.sideRange[1], p.sideTicks, p.sideLabels, { size: 7.6, len: 2.5, pad: 1, bold: -1 }),
        xt: frameAxis("top", gLast - lhPx / 2, p.sideRange[0], p.sideRange[1]),
        y: tickAxis("left", b.L, -2, 0, [0, -1, -2], ["", "", ""], { size: 7.6, len: 2.5, pad: 1, bold: -1, showLabels: false }),
        yr: frameAxis("right", b.R, -2, 0),
      },
    },
  };
}

function cbarConfig(p: any, b: any) {
  const size = 9.3;
  const lh = size * 0.8;
  const g = 6;
  const padTop = b.T - g - lh / 2;
  const edges = p.cb;
  const n = edges.length - 1;
  return {
    type: "bar",
    data: {
      labels: [""],
      datasets: edges.slice(0, n).map((e: number, i: number) => ({
        data: [[e, edges[i + 1]]],
        backgroundColor: gray(i),
        borderWidth: 0,
        barPercentage: 1,
        categoryPercentage: 1,
        grouped: false,
        xAxisID: "x",
        yAxisID: "y",
      })),
    },
    options: {
      ...baseOptions(),
      indexAxis: "y",
      plugins: { legend: { display: false }, tooltip: { enabled: false }, title: titleOpt(["Score value"], size, 0.8, padTop) },
      scales: {
        x: tickAxis("bottom", b.B, edges[0], edges[n], p.cbTicks, p.cbLabels, { size: 7.6, len: 2, pad: 1.7, bold: -1, border: CB_FRAME, bw: 0.8 }),
        xt: frameAxis("top", g - lh / 2, edges[0], edges[n], CB_FRAME, 0.8),
        y: {
          type: "category",
          position: "left",
          display: true,
          ticks: { display: false },
          grid: { display: false, drawTicks: false },
          border: { display: true, color: CB_FRAME, width: 0.8 },
          afterFit: (s: any) => {
            s.width = b.L;
          },
        },
        yr: frameAxis("right", b.R, 0, 1, CB_FRAME, 0.8),
      },
    },
  };
}

// ======================= COMPONENTS =======================
function ChartCanvas({ box, build }: { box: any; build: () => any }) {
  const ref = useRef<HTMLCanvasElement | null>(null);
  useEffect(() => {
    const chart = new Chart(ref.current as HTMLCanvasElement, build());
    return () => chart.destroy();
  }, []);
  return (
    <canvas
      ref={ref}
      width={box.width}
      height={box.height}
      style={{ position: "absolute", left: box.left, top: box.top, width: box.width, height: box.height }}
    />
  );
}

function PanelView({ p, L }: { p: any; L: any }) {
  const abs = (r: any) => ({ x: r.x + L.ox, y: r.y + L.oy, w: r.w, h: r.h });
  const topBox = place(abs(L.top), { l: 32, t: 20, r: 32, b: 10 });
  const heatBox = place(abs(L.heat), { l: 14, t: 14, r: 34, b: 12 });
  const sideBox = place(abs(L.side), { l: 14, t: 22, r: 14, b: 13 });
  const cbBox = place(abs(L.cbar), { l: 12, t: 15, r: 12, b: 13 });
  return (
    <>
      <ChartCanvas box={heatBox} build={() => heatConfig(p, heatBox)} />
      <ChartCanvas box={topBox} build={() => topConfig(p, L, topBox)} />
      <ChartCanvas box={sideBox} build={() => sideConfig(p, sideBox)} />
      <ChartCanvas box={cbBox} build={() => cbarConfig(p, cbBox)} />
      <div
        style={{
          position: "absolute",
          left: L.ox + L.capX - 150,
          top: L.oy + L.capBase - 17.6,
          width: 300,
          textAlign: "center",
          fontFamily: '"Liberation Serif", "Times New Roman", serif',
          fontSize: 21,
          lineHeight: "21px",
          whiteSpace: "nowrap",
          color: "#111",
        }}
      >
        <span>({p.letter})</span>
        <span style={{ marginLeft: 9 }}>{p.name}</span>
      </div>
    </>
  );
}

export default function App() {
  return (
    <div style={{ position: "absolute", left: 0, top: 0, width: 678, height: 730, background: "#fff", overflow: "hidden" }}>
      {PANELS.map((p, i) => (
        <PanelView key={p.letter} p={p} L={LAYOUTS[i]} />
      ))}
    </div>
  );
}
